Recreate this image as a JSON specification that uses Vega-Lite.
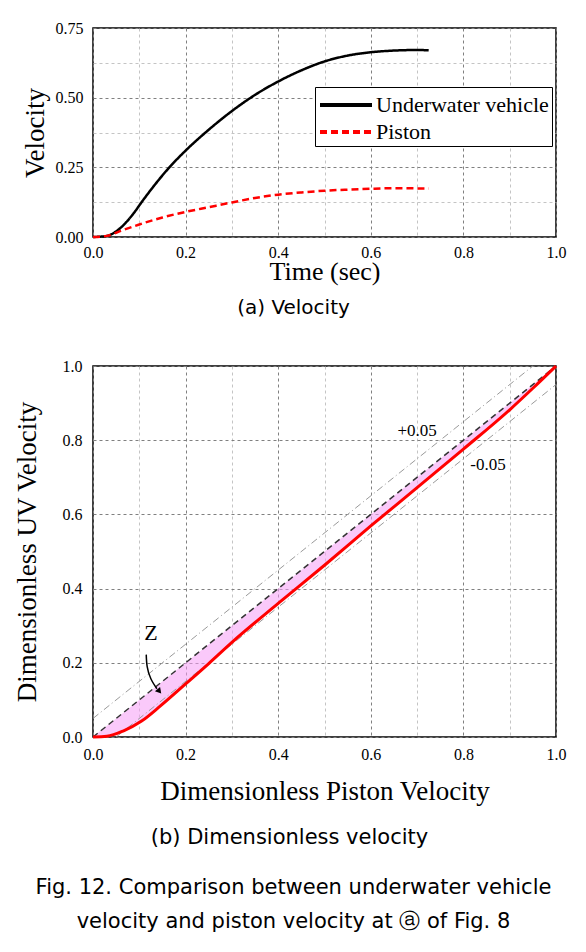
{
  "$schema": "https://vega.github.io/schema/vega-lite/v6.json",
  "background": "white",
  "padding": {"left": 12, "top": 19, "right": 20, "bottom": 10},
  "columns": 1,
  "spacing": 38,
  "title": {
    "text": ["Fig. 12. Comparison between underwater vehicle", "velocity and piston velocity at ⓐ of Fig. 8"],
    "orient": "bottom", "anchor": "middle", "frame": "bounds",
    "font": "DejaVu Sans", "fontSize": 21, "fontWeight": "normal", "color": "black",
    "lineHeight": 34, "offset": 28, "dx": 4
  },
  "datasets": {
    "vel": [
      {"t": 0, "v": 0, "series": "Underwater vehicle"},
      {"t": 0.03, "v": 0.004, "series": "Underwater vehicle"},
      {"t": 0.05, "v": 0.02, "series": "Underwater vehicle"},
      {"t": 0.07, "v": 0.05, "series": "Underwater vehicle"},
      {"t": 0.09, "v": 0.09, "series": "Underwater vehicle"},
      {"t": 0.105, "v": 0.125, "series": "Underwater vehicle"},
      {"t": 0.13, "v": 0.18, "series": "Underwater vehicle"},
      {"t": 0.165, "v": 0.25, "series": "Underwater vehicle"},
      {"t": 0.2, "v": 0.31, "series": "Underwater vehicle"},
      {"t": 0.25, "v": 0.385, "series": "Underwater vehicle"},
      {"t": 0.3, "v": 0.452, "series": "Underwater vehicle"},
      {"t": 0.35, "v": 0.51, "series": "Underwater vehicle"},
      {"t": 0.4, "v": 0.558, "series": "Underwater vehicle"},
      {"t": 0.45, "v": 0.598, "series": "Underwater vehicle"},
      {"t": 0.5, "v": 0.63, "series": "Underwater vehicle"},
      {"t": 0.55, "v": 0.651, "series": "Underwater vehicle"},
      {"t": 0.6, "v": 0.663, "series": "Underwater vehicle"},
      {"t": 0.65, "v": 0.669, "series": "Underwater vehicle"},
      {"t": 0.7, "v": 0.671, "series": "Underwater vehicle"},
      {"t": 0.725, "v": 0.67, "series": "Underwater vehicle"},
      {"t": 0, "v": 0, "series": "Piston"},
      {"t": 0.03, "v": 0.004, "series": "Piston"},
      {"t": 0.06, "v": 0.022, "series": "Piston"},
      {"t": 0.1, "v": 0.045, "series": "Piston"},
      {"t": 0.15, "v": 0.07, "series": "Piston"},
      {"t": 0.2, "v": 0.09, "series": "Piston"},
      {"t": 0.25, "v": 0.107, "series": "Piston"},
      {"t": 0.3, "v": 0.124, "series": "Piston"},
      {"t": 0.35, "v": 0.14, "series": "Piston"},
      {"t": 0.4, "v": 0.152, "series": "Piston"},
      {"t": 0.45, "v": 0.16, "series": "Piston"},
      {"t": 0.5, "v": 0.166, "series": "Piston"},
      {"t": 0.55, "v": 0.17, "series": "Piston"},
      {"t": 0.6, "v": 0.173, "series": "Piston"},
      {"t": 0.65, "v": 0.175, "series": "Piston"},
      {"t": 0.725, "v": 0.174, "series": "Piston"}
    ],
    "dimless": [
      {"p": 0, "uv": 0, "ideal": 0},
      {"p": 0.03, "uv": 0.002, "ideal": 0.03},
      {"p": 0.065, "uv": 0.016, "ideal": 0.065},
      {"p": 0.105, "uv": 0.043, "ideal": 0.105},
      {"p": 0.145, "uv": 0.083, "ideal": 0.145},
      {"p": 0.2, "uv": 0.143, "ideal": 0.2},
      {"p": 0.25, "uv": 0.198, "ideal": 0.25},
      {"p": 0.3, "uv": 0.255, "ideal": 0.3},
      {"p": 0.4, "uv": 0.36, "ideal": 0.4},
      {"p": 0.5, "uv": 0.463, "ideal": 0.5},
      {"p": 0.6, "uv": 0.569, "ideal": 0.6},
      {"p": 0.7, "uv": 0.672, "ideal": 0.7},
      {"p": 0.8, "uv": 0.776, "ideal": 0.8},
      {"p": 0.9, "uv": 0.882, "ideal": 0.9},
      {"p": 0.95, "uv": 0.94, "ideal": 0.95},
      {"p": 1.0, "uv": 1.0, "ideal": 1.0}
    ],
    "bands": [
      {"p": 0, "b": 0.05, "band": "+0.05"},
      {"p": 0.95, "b": 1.0, "band": "+0.05"},
      {"p": 0.05, "b": 0, "band": "-0.05"},
      {"p": 1.0, "b": 0.95, "band": "-0.05"}
    ],
    "diag": [
      {"p": 0, "d": 0},
      {"p": 1, "d": 1}
    ],
    "arrow": [
      {"p": 0.115, "y": 0.222},
      {"p": 0.117, "y": 0.19},
      {"p": 0.125, "y": 0.157},
      {"p": 0.138, "y": 0.13}
    ],
    "arrowhead": [
      {"p": 0.142, "y": 0.125}
    ],
    "notes": [
      {"p": 0.125, "y": 0.28, "label": "Z", "size": "big"},
      {"p": 0.7, "y": 0.825, "label": "+0.05", "size": "small"},
      {"p": 0.853, "y": 0.732, "label": "-0.05", "size": "small"}
    ]
  },
  "concat": [
    {
      "width": 463,
      "height": 209,
      "title": {"text": "(a) Velocity", "orient": "bottom", "anchor": "middle", "frame": "bounds", "font": "DejaVu Sans", "fontSize": 20, "fontWeight": "normal", "color": "black", "offset": 14},
      "data": {"name": "vel"},
      "mark": {"type": "line", "interpolate": "monotone", "strokeWidth": 2.5},
      "encoding": {
        "x": {
          "field": "t", "type": "quantitative",
          "scale": {"domain": [0, 1], "nice": false},
          "axis": {
            "title": "Time (sec)", "titleFontSize": 26, "titlePadding": -2, "labelPadding": 7,
            "values": [0, 0.1, 0.2, 0.3, 0.4, 0.5, 0.6, 0.7, 0.8, 0.9, 1.0],
            "labelExpr": "round(datum.value*10)%2==0 ? format(datum.value,'.1f') : ''",
            "gridColor": {"condition": {"test": "round(datum.value*10)%2==0", "value": "#808080"}, "value": "#c4c4c4"}
          }
        },
        "y": {
          "field": "v", "type": "quantitative",
          "scale": {"domain": [0, 0.75], "nice": false},
          "axis": {
            "title": "Velocity", "titlePadding": 6, "labelPadding": 10,
            "values": [0, 0.125, 0.25, 0.375, 0.5, 0.625, 0.75],
            "labelExpr": "round(datum.value*8)%2==0 ? format(datum.value,'.2f') : ''",
            "gridColor": {"condition": {"test": "round(datum.value*8)%2==0", "value": "#808080"}, "value": "#c4c4c4"}
          }
        },
        "color": {
          "field": "series", "type": "nominal",
          "scale": {"domain": ["Underwater vehicle", "Piston"], "range": ["black", "#ff0000"]},
          "legend": {
            "orient": "none", "legendX": 222, "legendY": 59, "title": null,
            "symbolType": "M-2,0H2", "symbolSize": 676, "symbolStrokeWidth": 4, "symbolOffset": 13,
            "labelFont": "Liberation Serif", "labelFontSize": 22, "labelColor": "black", "labelLimit": 400,
            "labelOffset": 15, "rowPadding": 1, "padding": 3,
            "strokeColor": "black", "fillColor": "white"
          }
        },
        "strokeDash": {
          "field": "series", "type": "nominal",
          "scale": {"domain": ["Underwater vehicle", "Piston"], "range": [[1, 0], [7, 4]]}
        }
      }
    },
    {
      "width": 463,
      "height": 371,
      "title": {"text": "(b) Dimensionless velocity", "orient": "bottom", "anchor": "middle", "frame": "bounds", "font": "DejaVu Sans", "fontSize": 21, "fontWeight": "normal", "color": "black", "offset": 23},
      "encoding": {
        "x": {
          "field": "p", "type": "quantitative",
          "scale": {"domain": [0, 1], "nice": false},
          "axis": {
            "title": "Dimensionless Piston Velocity", "titlePadding": 16, "labelPadding": 9,
            "values": [0, 0.1, 0.2, 0.3, 0.4, 0.5, 0.6, 0.7, 0.8, 0.9, 1.0],
            "labelExpr": "round(datum.value*10)%2==0 ? format(datum.value,'.1f') : ''",
            "gridColor": {"condition": {"test": "round(datum.value*10)%2==0", "value": "#808080"}, "value": "#c4c4c4"}
          }
        }
      },
      "layer": [
        {
          "data": {"name": "dimless"},
          "mark": {"type": "area", "interpolate": "monotone", "fill": "#f59cf5", "fillOpacity": 0.55},
          "encoding": {
            "y": {
              "field": "uv", "type": "quantitative",
              "scale": {"domain": [0, 1], "nice": false},
              "axis": {
                "title": "Dimensionless UV Velocity", "titlePadding": 21, "labelPadding": 11,
                "values": [0, 0.1, 0.2, 0.3, 0.4, 0.5, 0.6, 0.7, 0.8, 0.9, 1.0],
                "labelExpr": "round(datum.value*10)%2==0 ? format(datum.value,'.1f') : ''",
                "gridColor": {"condition": {"test": "round(datum.value*10)%2==0", "value": "#808080"}, "value": "#c4c4c4"}
              }
            },
            "y2": {"field": "ideal"}
          }
        },
        {
          "data": {"name": "bands"},
          "mark": {"type": "line", "color": "#9a9a9a", "strokeWidth": 1, "strokeDash": [7, 3, 1, 3]},
          "encoding": {
            "y": {"field": "b", "type": "quantitative"},
            "detail": {"field": "band", "type": "nominal"}
          }
        },
        {
          "data": {"name": "diag"},
          "mark": {"type": "line", "color": "#333333", "strokeWidth": 1.5, "strokeDash": [6, 4]},
          "encoding": {
            "y": {"field": "d", "type": "quantitative"}
          }
        },
        {
          "data": {"name": "dimless"},
          "mark": {"type": "line", "color": "#ff0000", "strokeWidth": 3, "interpolate": "monotone"},
          "encoding": {
            "y": {"field": "uv", "type": "quantitative"}
          }
        },
        {
          "data": {"name": "arrow"},
          "mark": {"type": "line", "color": "black", "strokeWidth": 1.5, "interpolate": "natural"},
          "encoding": {
            "y": {"field": "y", "type": "quantitative"}
          }
        },
        {
          "data": {"name": "arrowhead"},
          "mark": {"type": "point", "shape": "triangle", "filled": true, "color": "black", "size": 45, "angle": 140, "opacity": 1},
          "encoding": {
            "y": {"field": "y", "type": "quantitative"}
          }
        },
        {
          "data": {"name": "notes"},
          "mark": {"type": "text", "font": "Liberation Serif", "color": "black", "align": "center", "baseline": "middle"},
          "encoding": {
            "y": {"field": "y", "type": "quantitative"},
            "text": {"field": "label"},
            "size": {"field": "size", "type": "nominal", "scale": {"domain": ["big", "small"], "range": [22, 17]}, "legend": null}
          }
        }
      ]
    }
  ],
  "config": {
    "view": {"stroke": "black", "strokeWidth": 1.5},
    "axis": {
      "labelFont": "Liberation Serif", "titleFont": "Liberation Serif",
      "labelColor": "black", "titleColor": "black",
      "labelFontSize": 16, "titleFontSize": 27, "titleFontWeight": "normal",
      "ticks": false, "domain": false, "labelFlush": false, "labelOverlap": false,
      "gridDash": [3, 3], "gridWidth": 1, "gridOpacity": 1
    }
  }
}
